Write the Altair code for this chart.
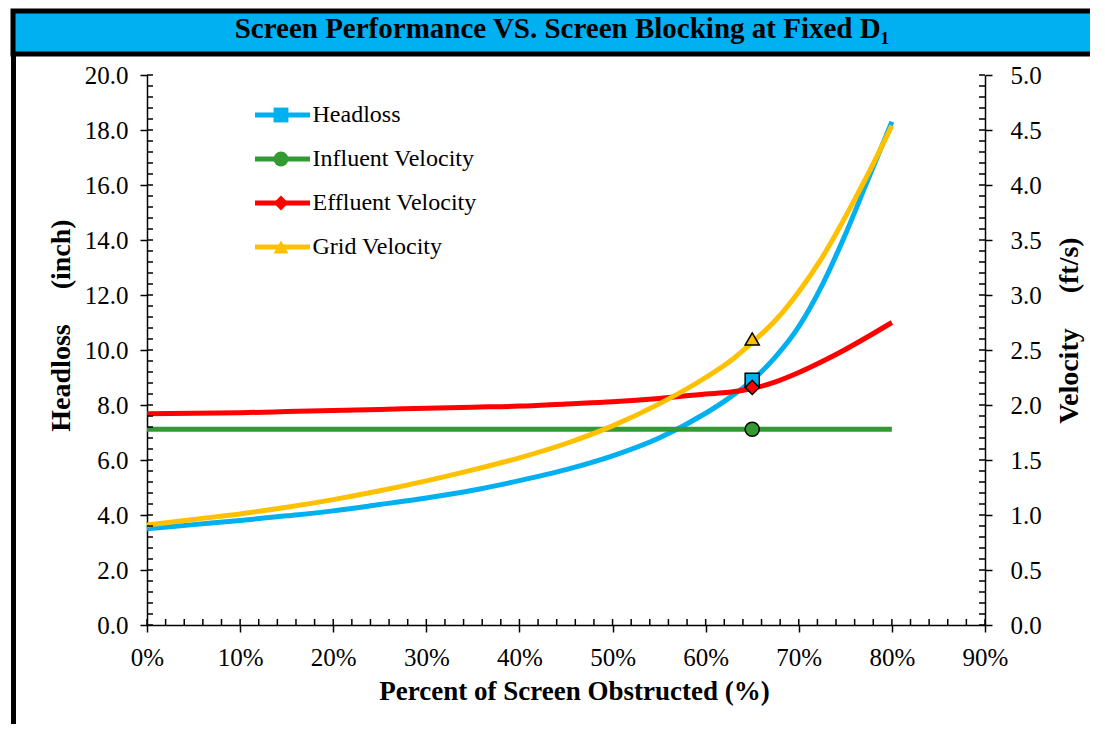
import altair as alt
import pandas as pd

# ---------------- data ----------------
pct = [0, 5, 10, 15, 20, 25, 30, 35, 40, 45, 50, 55, 60,
       62.5, 65, 67.5, 70, 72.5, 75, 77.5, 80]
headloss = [3.50, 3.65, 3.80, 3.97, 4.15, 4.38, 4.62, 4.90, 5.25, 5.65, 6.15,
            6.80, 7.70, 8.25, 8.90, 9.75, 10.85, 12.35, 14.20, 16.25, 18.30]
influent = [1.78] * 21
effluent = [1.92, 1.925, 1.93, 1.94, 1.95, 1.96, 1.97, 1.98, 1.99, 2.01, 2.03,
            2.06, 2.10, 2.115, 2.15, 2.21, 2.295, 2.395, 2.505, 2.625, 2.75]
grid = [0.91, 0.96, 1.01, 1.07, 1.14, 1.22, 1.31, 1.41, 1.52, 1.65, 1.81,
        2.01, 2.25, 2.39, 2.57, 2.77, 3.03, 3.34, 3.71, 4.11, 4.54]

marker_pct = [65, 65, 65, 65]
marker_value = [8.9, 1.78, 2.16, 2.6]
marker_axis = ["left", "right", "right", "right"]

series = ["Headloss", "Influent Velocity", "Effluent Velocity", "Grid Velocity"]
marker_keys = ["m-Headloss", "m-Influent", "m-Effluent", "m-Grid"]
colors = ["#00B0F0", "#339933", "#FF0000", "#FFC000"]
shapes = ["square", "circle", "diamond", "triangle-up"]

x_major = list(range(0, 91, 10))
x_minor = list(range(0, 91, 2))
h_major = [0, 2, 4, 6, 8, 10, 12, 14, 16, 18, 20]
h_minor = [round(i * 0.4, 1) for i in range(51)]
v_per_h = 0.25  # right axis (ft/s) = left axis (inch) * 0.25 on this chart

title_text = "Screen Performance VS. Screen Blocking at Fixed D\u2081"
x_title = "Percent of Screen Obstructed (%)"
h_title = "Headloss\u00a0\u00a0\u00a0\u00a0\u00a0(inch)"
v_title = "Velocity\u00a0\u00a0\u00a0\u00a0\u00a0(ft/s)"

# ---------------- style ----------------
SERIF = "Liberation Serif"
W, H = 838, 550
BANNER_W, BANNER_H = 1077, 43

xscale = alt.Scale(domain=[0, 90], nice=False, zero=False)
yscale = alt.Scale(domain=[0, 20], nice=False)
color_scale = alt.Scale(domain=series, range=colors)
fill_scale = alt.Scale(domain=marker_keys, range=colors)
shape_scale = alt.Scale(domain=marker_keys, range=shapes)

common_axis = dict(labelFont=SERIF, labelColor="black", titleFont=SERIF,
                   titleColor="black", titleFontWeight="bold",
                   tickColor="black", tickWidth=1.5, tickSize=7,
                   domainColor="black", domainWidth=1.5, grid=False)

x_axis = alt.Axis(values=x_major, labelExpr="datum.value + '%'", title=x_title,
                  labelFontSize=25, labelPadding=13, titleFontSize=27,
                  titleX=427, titleY=66, titleBaseline="middle",
                  labelFlush=False, **common_axis)
h_axis = alt.Axis(values=h_major, format=".1f", title=h_title, orient="left",
                  labelFontSize=25, labelPadding=12, titleFontSize=28,
                  titleAngle=270, titleX=-86, titleY=250,
                  titleAlign="center", titleBaseline="middle", **common_axis)
v_axis = alt.Axis(values=h_major, labelExpr=f"format(datum.value * {v_per_h}, '.1f')",
                  title=v_title, orient="right",
                  labelFontSize=25, labelPadding=18, titleFontSize=28,
                  titleAngle=270, titleX=84, titleY=255,
                  titleAlign="center", titleBaseline="middle", **common_axis)

line_legend = alt.Legend(title=None, orient="none", legendX=257.5, legendY=92,
                         symbolType="M-5,0L5,0", symbolSize=121,
                         symbolStrokeWidth=5, symbolFillColor="transparent",
                         labelFont=SERIF, labelFontSize=24, labelColor="black",
                         labelLimit=400, rowPadding=20, labelOffset=18, padding=0)
marker_legend = alt.Legend(title=None, orient="none", legendX=256, legendY=92,
                           symbolSize=220, symbolStrokeColor="black",
                           symbolStrokeWidth=1.5, symbolOpacity=1,
                           labelExpr="''", labelFontSize=24,
                           rowPadding=20, labelOffset=18, padding=0)

# ---------------- tables ----------------
df_head = pd.DataFrame({"pct": pct, "val": headloss, "series": "Headloss"})
df_in = pd.DataFrame({"pct": pct, "val": influent, "series": "Influent Velocity"})
df_ef = pd.DataFrame({"pct": pct, "val": effluent, "series": "Effluent Velocity"})
df_gr = pd.DataFrame({"pct": pct, "val": grid, "series": "Grid Velocity"})
df_mk = pd.DataFrame({"pct": marker_pct, "val": marker_value,
                      "axis": marker_axis, "mseries": marker_keys})
df_lt = pd.DataFrame({"pct": [0] * len(h_minor), "pos": h_minor})
df_rt = pd.DataFrame({"pct": [90] * len(h_minor), "pos": h_minor})
df_bt = pd.DataFrame({"pct": x_minor, "pos": [0] * len(x_minor)})

# velocity values are placed on the shared scale through the right-axis ratio
to_pos_v = f"datum.val / {v_per_h}"
to_pos_any = f"datum.axis == 'right' ? datum.val / {v_per_h} : datum.val"

X_NOAXIS = alt.X("pct:Q", scale=xscale, axis=None)


def y_enc(axis):
    return alt.Y("pos:Q", scale=yscale, axis=axis)


def line_layer(df, calc, xenc, yaxis):
    return alt.Chart(df).transform_calculate(pos=calc).mark_line(
        strokeWidth=5, interpolate="monotone").encode(
        x=xenc, y=y_enc(yaxis),
        color=alt.Color("series:N", scale=color_scale, legend=line_legend),
    )


line_h = line_layer(df_head, "datum.val",
                    alt.X("pct:Q", scale=xscale, axis=x_axis), h_axis)
line_in = line_layer(df_in, to_pos_v, X_NOAXIS, v_axis)
line_ef = line_layer(df_ef, to_pos_v, X_NOAXIS, None)
line_gr = line_layer(df_gr, to_pos_v, X_NOAXIS, None)


def tick_layer(df, orient, **offs):
    return alt.Chart(df).mark_tick(orient=orient, size=6, thickness=1.5,
                                   color="black", opacity=1, **offs).encode(
        x=X_NOAXIS, y=y_enc(None))


ticks_left = tick_layer(df_lt, "horizontal", xOffset=3)
ticks_right = tick_layer(df_rt, "horizontal", xOffset=-3)
ticks_bottom = tick_layer(df_bt, "vertical", yOffset=-3)

markers = alt.Chart(df_mk).transform_calculate(pos=to_pos_any).mark_point(
    filled=True, size=200, stroke="black", strokeWidth=1.5, opacity=1).encode(
    x=X_NOAXIS, y=y_enc(None),
    fill=alt.Fill("mseries:N", scale=fill_scale, legend=marker_legend),
    shape=alt.Shape("mseries:N", scale=shape_scale, legend=marker_legend),
)

main = alt.layer(
    line_h, line_in, line_ef, line_gr, ticks_left, ticks_right, ticks_bottom, markers
).resolve_axis(x="independent", y="independent").properties(width=W, height=H)

# left black frame bar (chart border decoration)
bar = alt.Chart(pd.DataFrame({"a": [0]})).mark_rect(color="black").encode(
    x=alt.value(-2), x2=alt.value(3), y=alt.value(-19), y2=alt.value(649)
).properties(width=5, height=H)

# title banner (border drawn on top, left and bottom only)
banner = alt.Chart(pd.DataFrame({"t": [title_text]})).mark_text(
    font=SERIF, fontSize=29, fontWeight="bold", color="black", baseline="middle",
    align="center"
).encode(
    text="t:N", x=alt.value(549), y=alt.value(18)
).properties(width=BANNER_W, height=BANNER_H,
             view=alt.ViewBackground(fill="#00B0F0", stroke="black", strokeWidth=5,
                                     strokeDash=[BANNER_W, BANNER_H,
                                                 2 * BANNER_W + 2 * BANNER_H]))

chart = alt.vconcat(
    banner,
    alt.hconcat(bar, main, spacing=27),
    spacing=-2,
).properties(
    padding={"left": 2, "top": 0, "right": 0, "bottom": 0},
    background="white",
).configure_view(stroke="transparent")

chart.save("out.html", embed_options={"renderer": "svg", "actions": False})
